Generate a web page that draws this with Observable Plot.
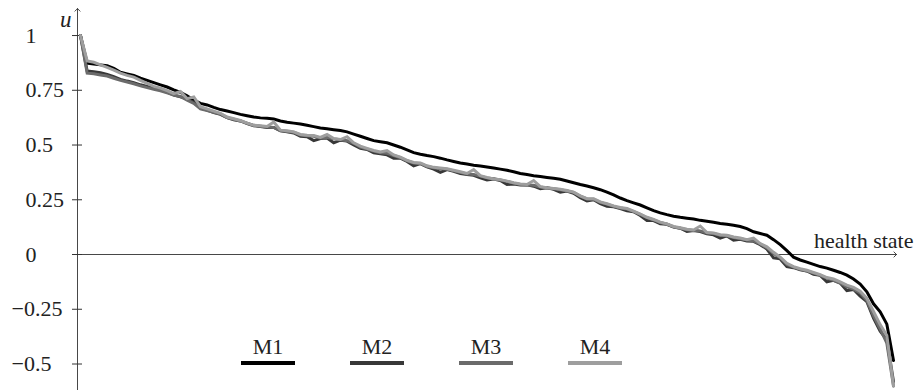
<!DOCTYPE html>
<html><head><meta charset="utf-8">
<script src="https://cdn.jsdelivr.net/npm/d3@7"></script>
<script src="https://cdn.jsdelivr.net/npm/@observablehq/plot@0.6"></script>
<style>
html,body{margin:0;padding:0;background:#fff;}
#wrap{position:relative;width:915px;height:390px;font-family:"Liberation Serif","Tinos","Times New Roman","DejaVu Serif",serif;}
#legend{position:absolute;left:241px;top:335.5px;display:flex;gap:55px;}
.item{width:54px;display:flex;flex-direction:column;align-items:center;}
.item span{font-size:22px;line-height:22px;height:22px;color:#222;}
.item i{display:block;width:54px;height:3.5px;margin-top:3.5px;}
</style></head><body><div id="wrap"><div id="legend"></div></div>
<script>
const seriesNames = ["M1", "M2", "M3", "M4"];
const seriesColors = ["#000000", "#383838", "#6b6b6b", "#9e9e9e"];
const yTicks = [-0.5, -0.25, 0, 0.25, 0.5, 0.75, 1];
const yTickLabels = ["\u22120.5", "\u22120.25", "0", "0.25", "0.5", "0.75", "1"];
const axisLabelY = "u";
const axisLabelX = "health state";

const m1 = [
 1.0, 0.874, 0.870, 0.866, 0.862, 0.850, 0.832, 0.825, 0.818, 0.805,
 0.795, 0.785, 0.775, 0.765, 0.752, 0.740, 0.725, 0.705, 0.690, 0.683,
 0.672, 0.662, 0.655, 0.648, 0.640, 0.634, 0.628, 0.624, 0.622, 0.619,
 0.610, 0.604, 0.600, 0.596, 0.590, 0.584, 0.578, 0.574, 0.570, 0.566,
 0.560, 0.550, 0.540, 0.530, 0.520, 0.515, 0.510, 0.500, 0.490, 0.478,
 0.465, 0.458, 0.452, 0.447, 0.440, 0.432, 0.425, 0.418, 0.413, 0.408,
 0.404, 0.400, 0.395, 0.390, 0.385, 0.378, 0.370, 0.365, 0.360, 0.356,
 0.352, 0.348, 0.344, 0.336, 0.328, 0.320, 0.313, 0.305, 0.296, 0.285,
 0.272, 0.258, 0.246, 0.236, 0.226, 0.213, 0.200, 0.190, 0.182, 0.175,
 0.170, 0.166, 0.162, 0.156, 0.152, 0.147, 0.142, 0.138, 0.134, 0.128,
 0.118, 0.104, 0.096, 0.088, 0.068, 0.045, 0.018, -0.012, -0.025, -0.035,
 -0.045, -0.055, -0.062, -0.072, -0.082, -0.094, -0.112, -0.135, -0.170, -0.225,
 -0.262, -0.318, -0.484
];
const m2 = [
 1.0, 0.838, 0.835, 0.830, 0.822, 0.812, 0.800, 0.792, 0.785, 0.775,
 0.768, 0.760, 0.752, 0.742, 0.728, 0.720, 0.710, 0.695, 0.668, 0.660,
 0.648, 0.640, 0.625, 0.615, 0.610, 0.598, 0.588, 0.585, 0.580, 0.580,
 0.565, 0.560, 0.555, 0.540, 0.538, 0.520, 0.530, 0.532, 0.510, 0.522,
 0.518, 0.500, 0.485, 0.480, 0.465, 0.460, 0.455, 0.440, 0.440, 0.425,
 0.405, 0.415, 0.400, 0.390, 0.375, 0.388, 0.380, 0.370, 0.365, 0.362,
 0.350, 0.340, 0.345, 0.338, 0.320, 0.322, 0.318, 0.318, 0.312, 0.300,
 0.305, 0.298, 0.285, 0.290, 0.280, 0.260, 0.245, 0.250, 0.232, 0.220,
 0.218, 0.210, 0.200, 0.195, 0.178, 0.155, 0.155, 0.140, 0.138, 0.125,
 0.120, 0.105, 0.110, 0.105, 0.095, 0.090, 0.075, 0.085, 0.065, 0.070,
 0.062, 0.060, 0.045, 0.025, -0.015, -0.020, -0.055, -0.060, -0.070, -0.075,
 -0.090, -0.095, -0.125, -0.118, -0.130, -0.165, -0.160, -0.190, -0.215, -0.290,
 -0.350, -0.390, -0.580
];
const m3 = [
 1.0, 0.828, 0.825, 0.820, 0.815, 0.805, 0.795, 0.788, 0.780, 0.770,
 0.762, 0.755, 0.748, 0.738, 0.728, 0.722, 0.705, 0.690, 0.665, 0.658,
 0.650, 0.642, 0.625, 0.618, 0.610, 0.600, 0.590, 0.586, 0.582, 0.580,
 0.566, 0.562, 0.558, 0.546, 0.542, 0.540, 0.532, 0.534, 0.528, 0.524,
 0.520, 0.508, 0.490, 0.482, 0.472, 0.465, 0.462, 0.452, 0.442, 0.428,
 0.418, 0.415, 0.402, 0.396, 0.392, 0.390, 0.382, 0.375, 0.368, 0.365,
 0.358, 0.350, 0.346, 0.340, 0.334, 0.326, 0.320, 0.318, 0.316, 0.308,
 0.304, 0.300, 0.296, 0.290, 0.284, 0.266, 0.254, 0.252, 0.238, 0.230,
 0.220, 0.212, 0.208, 0.196, 0.183, 0.168, 0.158, 0.146, 0.138, 0.126,
 0.120, 0.113, 0.110, 0.108, 0.098, 0.096, 0.088, 0.086, 0.078, 0.072,
 0.066, 0.062, 0.048, 0.030, 0.005, -0.015, -0.045, -0.058, -0.068, -0.075,
 -0.085, -0.095, -0.108, -0.118, -0.130, -0.148, -0.158, -0.175, -0.210, -0.280,
 -0.340, -0.405, -0.600
];
const m4 = [
 1.0, 0.884, 0.878, 0.866, 0.855, 0.842, 0.828, 0.818, 0.810, 0.795,
 0.782, 0.768, 0.760, 0.748, 0.735, 0.745, 0.712, 0.720, 0.675, 0.665,
 0.655, 0.645, 0.628, 0.620, 0.612, 0.600, 0.590, 0.588, 0.585, 0.605,
 0.568, 0.565, 0.560, 0.548, 0.545, 0.543, 0.535, 0.548, 0.530, 0.525,
 0.538, 0.510, 0.495, 0.485, 0.475, 0.468, 0.475, 0.455, 0.445, 0.430,
 0.420, 0.418, 0.405, 0.398, 0.395, 0.392, 0.385, 0.378, 0.370, 0.388,
 0.360, 0.352, 0.345, 0.342, 0.335, 0.328, 0.322, 0.320, 0.338, 0.310,
 0.305, 0.302, 0.298, 0.292, 0.285, 0.268, 0.255, 0.255, 0.240, 0.232,
 0.222, 0.215, 0.210, 0.198, 0.185, 0.170, 0.160, 0.148, 0.140, 0.128,
 0.122, 0.115, 0.112, 0.130, 0.100, 0.098, 0.090, 0.088, 0.080, 0.075,
 0.068, 0.075, 0.050, 0.035, 0.010, -0.012, -0.040, -0.055, -0.065, -0.072,
 -0.082, -0.092, -0.105, -0.112, -0.125, -0.140, -0.150, -0.168, -0.200, -0.260,
 -0.320, -0.370, -0.600
];

const allSeries = [m1, m2, m3, m4];
const rows = allSeries.flatMap((vals, k) => vals.map((v, i) => ({state: i, u: v, model: seriesNames[k]})));
const tickRows = yTicks.map((v, i) => ({v, label: yTickLabels[i]}));
const n = m1.length;
const xDomain = [-0.45, n - 1 + 0.45];
const yDomain = [-0.621, 1.16];
const yTop = 1.123;
const axisColor = "#333";
const serif = '"Liberation Serif", "Tinos", "Times New Roman", "DejaVu Serif", serif';

const chart = Plot.plot({
  width: 915, height: 390,
  marginLeft: 77, marginRight: 19, marginTop: 0, marginBottom: 0,
  style: {fontFamily: serif, fontSize: "22px", color: "#222", background: "#fff", overflow: "visible"},
  x: {domain: xDomain, axis: null},
  y: {domain: yDomain, axis: null},
  color: {domain: seriesNames, range: seriesColors},
  marks: [
    Plot.axisY(yTicks, {tickSize: 10, dx: 5, tickFormat: () => "", stroke: axisColor, label: null}),
    Plot.text(tickRows.filter(d => d.v >= 0), {y: "v", text: "label", frameAnchor: "left", dx: -52, textAnchor: "start", fill: "#222", fontFamily: serif}),
    Plot.text(tickRows.filter(d => d.v < 0), {y: "v", text: "label", frameAnchor: "left", dx: -66, textAnchor: "start", fill: "#222", fontFamily: serif}),
    Plot.arrow([{x1: xDomain[0], y1: 0, x2: xDomain[1], y2: 0}], {x1: "x1", y1: "y1", x2: "x2", y2: "y2", stroke: axisColor, strokeWidth: 0.9, headLength: 6, headAngle: 90, inset: 0}),
    Plot.arrow([{x1: xDomain[0], y1: yDomain[0], x2: xDomain[0], y2: yTop}], {x1: "x1", y1: "y1", x2: "x2", y2: "y2", stroke: axisColor, strokeWidth: 0.9, headLength: 6, headAngle: 90, inset: 0}),
    Plot.line(rows, {x: "state", y: "u", z: "model", stroke: "model", strokeWidth: 3, strokeLinejoin: "miter", strokeMiterlimit: 8}),
    Plot.text([axisLabelY], {text: d => d, frameAnchor: "top-left", dx: -6, dy: 10, textAnchor: "end", fontStyle: "italic", fontSize: 23, fill: "#222", fontFamily: serif}),
    Plot.text([axisLabelX], {text: d => d, y: () => 0, frameAnchor: "right", textAnchor: "end", dx: 17, dy: -14, fill: "#222", fontFamily: serif})
  ]
});
const wrap = document.getElementById("wrap");
wrap.insertBefore(chart, wrap.firstChild);

const legend = document.getElementById("legend");
seriesNames.forEach((name, k) => {
  const item = document.createElement("div");
  item.className = "item";
  const s = document.createElement("span");
  s.textContent = name;
  const l = document.createElement("i");
  l.style.background = seriesColors[k];
  item.appendChild(s); item.appendChild(l);
  legend.appendChild(item);
});
</script></body></html>
